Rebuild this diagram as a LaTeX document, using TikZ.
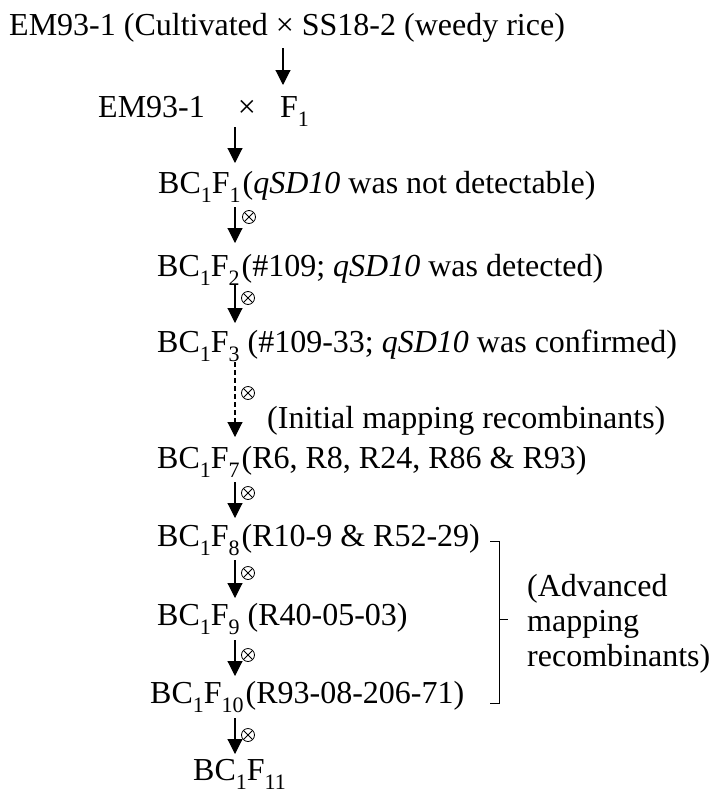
\documentclass[tikz,border=0pt]{standalone}
\usepackage{fontspec}
\setmainfont{Liberation Serif}
\usetikzlibrary{arrows.meta}
\newcommand{\sbs}[1]{\raisebox{-9pt}{\fontsize{22}{22}\selectfont #1}}
\newcommand{\tg}{\hspace{2pt}}
\begin{document}
\begin{tikzpicture}[x=1pt,y=-1pt,
  txt/.style={anchor=base west, inner sep=0pt, font=\fontsize{32}{36}\selectfont},
  arr/.style={line width=1.1pt, -{Triangle[length=15pt,width=15pt]}},
  darr/.style={arr, dash pattern=on 5pt off 3pt},
  selfm/.style={circle, draw, line width=0.8pt, minimum size=13pt, inner sep=0pt,
    path picture={\draw[line width=0.8pt]
      (path picture bounding box.north west) -- (path picture bounding box.south east)
      (path picture bounding box.north east) -- (path picture bounding box.south west);}},
  brk/.style={line width=1pt}]
\useasboundingbox (0,0) rectangle (718,793);

% texts
\node[txt] (l1) at (9,35) {EM93-1 (Cultivated × SS18-2 (weedy rice)};
\node[txt] (l2a) at (98,117) {EM93-1};
\node[txt, anchor=base] (l2x) at (247,117) {×};
\node[txt] (l2f) at (280,117) {F\sbs{1}};
\node[txt] (g1) at (158,193) {BC\sbs{1}F\sbs{1}\tg(\textit{qSD10} was not detectable)};
\node[txt] (g2) at (157,276) {BC\sbs{1}F\sbs{2}\tg(\#109; \textit{qSD10} was detected)};
\node[txt] (g3) at (157,352) {BC\sbs{1}F\sbs{3} (\#109-33; \textit{qSD10} was confirmed)};
\node[txt] (ini) at (267,428) {(Initial mapping recombinants)};
\node[txt] (g7) at (157,468) {BC\sbs{1}F\sbs{7}\tg(R6, R8, R24, R86 \& R93)};
\node[txt] (g8) at (157,546) {BC\sbs{1}F\sbs{8}\tg(R10-9 \& R52-29)};
\node[txt] (g9) at (157,625) {BC\sbs{1}F\sbs{9} (R40-05-03)};
\node[txt] (g10) at (150,703) {BC\sbs{1}F\sbs{10}\tg(R93-08-206-71)};
\node[txt] (g11) at (193,780) {BC\sbs{1}F\sbs{11}};
\node[txt] (adv1) at (527,596) {(Advanced};
\node[txt] (adv2) at (527,631) {mapping};
\node[txt] (adv3) at (527,666) {recombinants)};

% arrow end points
\coordinate (a1s) at (283,48);  \coordinate (a1e) at (283,85);
\coordinate (a2s) at (235,127); \coordinate (a2e) at (235,163);
\coordinate (a3s) at (235,207); \coordinate (a3e) at (235,243);
\coordinate (a4s) at (235,285); \coordinate (a4e) at (235,323);
\coordinate (a5s) at (235,362); \coordinate (a5e) at (235,437);
\coordinate (a6s) at (235,482); \coordinate (a6e) at (235,518);
\coordinate (a7s) at (235,560); \coordinate (a7e) at (235,598);
\coordinate (a8s) at (235,640); \coordinate (a8e) at (235,676);
\coordinate (a9s) at (235,718); \coordinate (a9e) at (235,754);

\draw[arr] (a1s) -- (a1e);
\draw[arr] (a2s) -- (a2e);
\draw[arr] (a3s) -- (a3e);
\draw[arr] (a4s) -- (a4e);
\draw[darr] (a5s) -- (a5e);
\draw[arr] (a6s) -- (a6e);
\draw[arr] (a7s) -- (a7e);
\draw[arr] (a8s) -- (a8e);
\draw[arr] (a9s) -- (a9e);

% selfing symbols
\node[selfm] (s3) at (249,217) {};
\node[selfm] (s4) at (248,298) {};
\node[selfm] (s5) at (248,393) {};
\node[selfm] (s6) at (248,493) {};
\node[selfm] (s7) at (248,573) {};
\node[selfm] (s8) at (248,655) {};
\node[selfm] (s9) at (248,735) {};

% bracket
\coordinate (bt) at (490,541);
\coordinate (bb) at (490,703);
\coordinate (bm) at (508,619);
\draw[brk] (bt) -- (499,541) -- (499,703) -- (bb);
\draw[brk] (499,619) -- (bm);
\end{tikzpicture}
\end{document}
